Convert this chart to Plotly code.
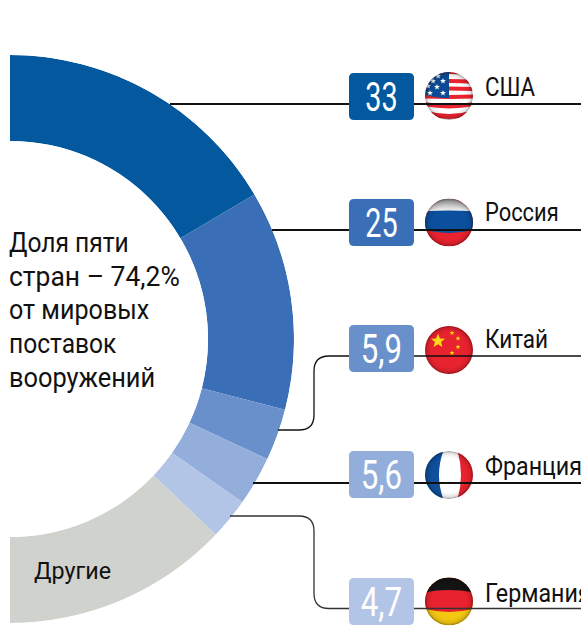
import base64
import json
import math
import numpy as np
import plotly.graph_objects as go

# ---------- data ----------
countries = ["США", "Россия", "Китай", "Франция", "Германия"]
shares = [33, 25, 5.9, 5.6, 4.7]
share_labels = ["33", "25", "5,9", "5,6", "4,7"]
other_label = "Другие"
other_share = 25.8
caption_lines = ["Доля пяти", "стран – 74,2%", "от мировых", "поставок", "вооружений"]

# ---------- style ----------
W, H = 581, 631
BLUES = ["#04589d", "#3a6fb7", "#6a90cb", "#93aeda", "#b3c5e6"]
GREY = "#d0d2cd"
CX, CY, R_OUT, R_IN = 10, 339, 284, 198
TXT = "Roboto"
BADGE_L, BADGE_R = 349, 414
BADGE_TOP = [73, 199, 325, 451, 578]
BADGE_H = 47
LEVEL = [104, 230, 356, 483, 608.5]
FLAG_CY = [96, 222.5, 350, 475, 601.5]
FLAG_CX, FLAG_R = 449, 24
LABEL_X = 483
LABEL_Y = [87, 212, 339, 466, 593]
CAPTION_SQUEEZE = [0.91, 0.98, 0.93, 0.91, 0.94]
LABEL_SQUEEZE = [0.89, 0.875, 0.9, 0.93, 0.93]
NUMBER_SQUEEZE = [0.72, 0.72, 0.78, 0.78, 0.78]


def star(cx, cy, r, color, rot=0):
    pts = []
    for i in range(10):
        rr = r if i % 2 == 0 else r * 0.42
        a = math.radians(-90 + 36 * i + rot)
        pts.append(f"{cx + rr * math.cos(a):.2f},{cy + rr * math.sin(a):.2f}")
    return f'<polygon points="{" ".join(pts)}" fill="{color}"/>'


SHADE = (
    '<radialGradient id="s" cx="50%" cy="50%" r="50%">'
    '<stop offset="72%" stop-color="#000" stop-opacity="0"/>'
    '<stop offset="90%" stop-color="#000" stop-opacity=".10"/>'
    '<stop offset="100%" stop-color="#000" stop-opacity=".38"/>'
    "</radialGradient>"
    '<linearGradient id="g" x1="0" y1="0" x2="0" y2="1">'
    '<stop offset="0" stop-color="#8f8f8f"/><stop offset="1" stop-color="#ffffff"/>'
    "</linearGradient>"
)


def flag_svg(body):
    svg = (
        '<svg xmlns="http://www.w3.org/2000/svg" width="96" height="96" viewBox="0 0 48 48">'
        f'<defs>{SHADE}<clipPath id="c"><circle cx="24" cy="24" r="24"/></clipPath></defs>'
        f'<g clip-path="url(#c)">{body}<circle cx="24" cy="24" r="24" fill="url(#s)"/></g></svg>'
    )
    return "data:image/svg+xml;base64," + base64.b64encode(svg.encode()).decode()


def usa():
    b = '<rect width="48" height="48" fill="#fff"/>'
    for y0, y1, bend in [(0, 3, -2), (8, 12, -2), (15, 19, -1), (22.5, 26.5, 1), (30, 34, 5), (38, 43, 8)]:
        b += f'<path d="M-2 {y0} Q24 {y0 + bend} 50 {y0} V{y1} Q24 {y1 + bend} -2 {y1} Z" fill="#e8222e"/>'
    b += '<path d="M-2 -2H24V26Q10 26 -2 22Z" fill="#0b4a94"/>'
    for x, y in [(5, 21), (12, 15), (18, 9), (18, 21), (8, 9), (13, 4), (3, 14)]:
        b += star(x, y, 3.1, "#ffffff")
    return flag_svg(b)


def russia():
    b = '<rect width="48" height="48" fill="#e8222e"/>'
    b += '<rect width="48" height="14" fill="url(#g)"/>'
    b += '<path d="M-2 13 Q24 11 50 13 V31 Q24 38 -2 31Z" fill="#0b4f9f"/>'
    return flag_svg(b)


def china():
    b = '<rect width="48" height="48" fill="#e8222e"/>'
    b += star(13, 15, 7.5, "#fbd915")
    for x, y in [(27, 7), (33, 12.5), (33, 21), (27, 27)]:
        b += star(x, y, 2.6, "#fbd915")
    return flag_svg(b)


def france():
    b = '<rect width="48" height="48" fill="#fff"/>'
    b += '<path d="M-2 -2H19Q9 24 19 50H-2Z" fill="#0f4f9c"/>'
    b += '<path d="M50 -2H32Q40 24 32 50H50Z" fill="#e8222e"/>'
    return flag_svg(b)


def germany():
    b = '<rect width="48" height="48" fill="#f4c811"/>'
    b += '<path d="M-2 -2H50V31Q24 38 -2 31Z" fill="#e8222e"/>'
    b += '<path d="M-2 -2H50V15Q24 10 -2 15Z" fill="#141414"/>'
    return flag_svg(b)


flags = [usa(), russia(), china(), france(), germany()]

# ---------- donut (half ring): 100 % spans half the turn ----------
values = np.array(shares + [other_share], dtype=float)
deg = values * 1.8
theta = np.cumsum(deg) - deg / 2

fig = go.Figure()
fig.add_trace(go.Barpolar(
    r=[1] * len(values),
    base=0,
    theta=theta,
    width=deg,
    marker=dict(color=BLUES + [GREY], line=dict(width=0)),
    hoverinfo="skip",
    showlegend=False,
))

# invisible trace keeps the pixel-like cartesian frame alive
fig.add_trace(go.Scatter(x=[0, W], y=[0, H], mode="markers", marker=dict(opacity=0),
                         hoverinfo="skip", showlegend=False))

shapes = []


def line_path(d, width, color="#111111"):
    shapes.append(dict(type="path", path=d, xref="x", yref="y", layer="above",
                       line=dict(color=color, width=width), fillcolor="rgba(0,0,0,0)"))


line_path(f"M170 {LEVEL[0]} H{W}", 2)
line_path(f"M272 {LEVEL[1]} H{W}", 2)
line_path(f"M278 430 H299 Q314 430 314 415 V371 Q314 {LEVEL[2]} 329 {LEVEL[2]} H{W}", 1.3)
line_path(f"M253 {LEVEL[3]} H{W}", 2)
line_path(f"M230 516 H299 Q314 516 314 531 V{LEVEL[4] - 15} Q314 {LEVEL[4]} 329 {LEVEL[4]} H{W}", 1.3, "#333333")

for top, color in zip(BADGE_TOP, BLUES):
    b = top + BADGE_H
    l, r_, k = BADGE_L, BADGE_R, 5
    shapes.append(dict(
        type="path", xref="x", yref="y", layer="above",
        path=f"M{l + k} {top} H{r_ - k} Q{r_} {top} {r_} {top + k} V{b - k} Q{r_} {b} {r_ - k} {b} "
             f"H{l + k} Q{l} {b} {l} {b - k} V{top + k} Q{l} {top} {l + k} {top} Z",
        fillcolor=color, line=dict(width=0),
    ))

annotations = []
squeeze = []


def note(x, y, text, size, factor, color="#111111", xanchor="left"):
    annotations.append(dict(x=x, y=y, xref="x", yref="y", text=text, showarrow=False,
                            xanchor=xanchor, yanchor="middle", align=xanchor,
                            font=dict(family=TXT, size=size, color=color)))
    squeeze.append(factor)


for i, line in enumerate(caption_lines):
    note(7, 243 + 33.7 * i, line, 27, CAPTION_SQUEEZE[i])
note(32, 571, other_label, 24, 0.97)
for name, y, f in zip(countries, LABEL_Y, LABEL_SQUEEZE):
    note(LABEL_X, y, name, 25, f)
for lab, top, f in zip(share_labels, BADGE_TOP, NUMBER_SQUEEZE):
    note((BADGE_L + BADGE_R) / 2, top + BADGE_H / 2 + 1, lab, 40, f, "#ffffff", "center")

images = [dict(source=s, xref="x", yref="y", x=FLAG_CX - FLAG_R, y=cy - FLAG_R, sizex=2 * FLAG_R, sizey=2 * FLAG_R,
               xanchor="left", yanchor="top", sizing="stretch", layer="above")
          for s, cy in zip(flags, FLAG_CY)]

fig.update_layout(
    width=W, height=H, autosize=False,
    margin=dict(l=0, r=0, t=0, b=0),
    paper_bgcolor="white", plot_bgcolor="rgba(0,0,0,0)",
    xaxis=dict(range=[0, W], visible=False, fixedrange=True),
    yaxis=dict(range=[H, 0], visible=False, fixedrange=True),
    polar=dict(
        domain=dict(x=[CX / W, (CX + R_OUT) / W], y=[1 - (CY + R_OUT) / H, 1 - (CY - R_OUT) / H]),
        sector=[-90, 90],
        hole=R_IN / R_OUT,
        bgcolor="rgba(0,0,0,0)",
        radialaxis=dict(range=[0, 1], visible=False),
        angularaxis=dict(rotation=90, direction="clockwise", visible=False),
    ),
    shapes=shapes, annotations=annotations, images=images,
)

# the reference's typeface is narrower than any installed one: condense the real text horizontally
post = (
    "document.body.style.margin='0';document.documentElement.style.overflow='hidden';"
    f"var f={json.dumps(squeeze)};"
    "document.querySelectorAll('.annotation-text').forEach(function(t,i){"
    "t.setAttribute('lengthAdjust','spacingAndGlyphs');"
    "t.setAttribute('textLength',t.getComputedTextLength()*f[i]);});"
)
fig.write_html("out.html", config=dict(displayModeBar=False), post_script=post)
